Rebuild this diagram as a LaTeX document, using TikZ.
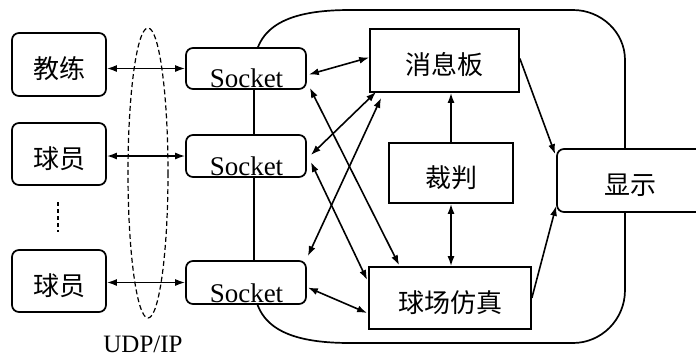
\documentclass[tikz,border=0pt]{standalone}
\usepackage{fontspec}
\setmainfont{Liberation Serif}
\newfontfamily\cjk{Noto Sans CJK SC}
\usetikzlibrary{arrows.meta,calc}
\begin{document}
\begin{tikzpicture}[x=1pt,y=-1pt,
  box/.style={draw, line width=1.7pt, fill=white, inner sep=0pt},
  rbox/.style={box, rounded corners=7pt},
  cn/.style={font=\cjk\fontsize{26}{30}\selectfont, text height=31pt, text depth=3pt},
  sk/.style={font=\fontsize{27}{30}\selectfont, inner sep=0pt, anchor=base},
  lbl/.style={font=\fontsize{25}{30}\selectfont, inner sep=0pt},
  dbl/.style={{Latex[length=10pt,width=7pt]}-{Latex[length=10pt,width=7pt]}, line width=1.6pt},
  sgl/.style={-{Latex[length=10pt,width=7pt]}, line width=1.6pt},
  outline/.style={line width=1.7pt},
  udp/.style={dash pattern=on 5pt off 3pt, line width=1.2pt},
  dots/.style={line width=2.4pt, dash pattern=on 4pt off 3pt},
]
\useasboundingbox (0,0) rectangle (696,357);
\clip (0,0) rectangle (696,357);

% big rounded region
\draw[outline] (254,283) -- (254,70) .. controls (254,25) and (290,10) .. (350,10)
  -- (573,10) .. controls (601,10) and (625,32) .. (625,60)
  -- (625,290) .. controls (625,320) and (601,343) .. (573,343)
  -- (350,343) .. controls (290,343) and (254,328) .. (254,283) -- cycle;

% UDP/IP ellipse
\draw[udp] (148,173) ellipse [x radius=20, y radius=145];
\node[lbl] (udplbl) at (143,344) {UDP/IP};

% left boxes
\node[rbox, minimum width=94pt, minimum height=63pt, cn] (coach) at (59,64.5) {教练};
\node[rbox, minimum width=94pt, minimum height=62pt, cn] (p1) at (59,154) {球员};
\node[rbox, minimum width=94pt, minimum height=62pt, cn] (p2) at (59,281) {球员};
\draw[dots] (58,202) -- (58,232);

% sockets
\node[rbox, minimum width=120pt, minimum height=41pt] (s1) at (246,68.5) {};
\node[rbox, minimum width=120pt, minimum height=42pt] (s2) at (246,156) {};
\node[rbox, minimum width=120pt, minimum height=43pt] (s3) at (246,282.5) {};
\node[sk] (t1) at ($(s1.south)+(0.5,-2)$) {Socket};
\node[sk] (t2) at ($(s2.south)+(0.5,-2)$) {Socket};
\node[sk] (t3) at ($(s3.south)+(0.5,-2)$) {Socket};

% inner boxes
\node[box, minimum width=149pt, minimum height=63pt, cn] (msg) at (444.5,60.5) {消息板};
\node[box, minimum width=124pt, minimum height=60pt, cn] (judge) at (451,173) {裁判};
\node[box, minimum width=162pt, minimum height=62pt, cn] (field) at (450,298) {球场仿真};
\node[rbox, minimum width=146pt, minimum height=63pt, cn] (disp) at (630,180.5) {显示};

% left arrows
\draw[dbl] (coach.east |- s1.west) -- (s1.west);
\draw[dbl] (p1.east |- s2.west) -- (s2.west);
\draw[dbl] (p2.east |- s3.west) -- (s3.west);

% socket connectors
\draw[dbl] ($(s1.east)+(2,6)$) -- ($(msg.west)+(0,-3)$);
\draw[dbl] ($(s1.south east)+(3,-2)$) -- ($(field.north west)+(31,-1)$);
\draw[dbl] ($(s2.east)+(4,-1)$) -- ($(msg.south west)+(7,-1)$);
\draw[dbl] ($(s3.north east)+(1,-4)$) -- ($(msg.south west)+(12,5)$);
\draw[dbl] ($(s2.east)+(4,6)$) -- ($(field.west)+(-1,-18)$);
\draw[dbl] ($(s3.east)+(1,5)$) -- ($(field.west)+(-1,15)$);

% inner connectors
\draw[sgl] (judge.north) -- (judge.north |- msg.south);
\draw[dbl] (judge.south) -- (judge.south |- field.north);
\draw[sgl] ($(msg.east)+(0,-2)$) -- ($(disp.north west)+(-1,6)$);
\draw[sgl] (field.east) -- ($(disp.south west)+(0,-7)$);
\end{tikzpicture}
\end{document}
